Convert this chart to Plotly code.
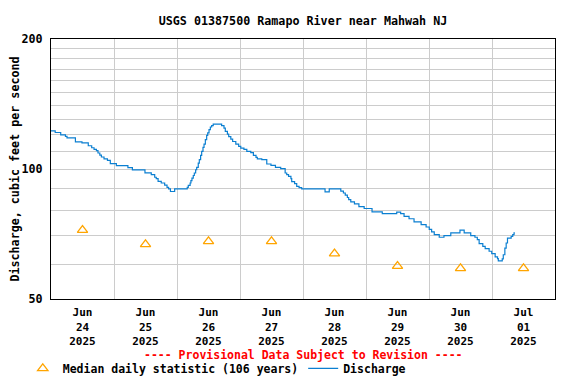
import pandas as pd
import plotly.graph_objects as go

# ---------------- data ----------------
start = pd.Timestamp("2025-06-24 00:00")

# Discharge (hours since Jun 24 00:00, cfs)
q_hours = [0.0, 1.6, 3.7, 5.5, 6.1, 9.3, 11.8, 14.2, 15.5, 16.4, 17.3, 17.9, 18.6, 19.2, 20.2,
           21.5, 22.6, 24.9, 29.3, 31.0, 35.8, 38.2, 39.5, 40.1, 40.8, 42.0, 43.3, 44.2, 44.8,
           45.5, 47.1, 51.9, 52.3, 53.0, 53.3, 53.7, 54.2, 54.6, 55.1, 55.5, 56.1, 56.5, 57.0,
           57.4, 57.9, 58.3, 58.8, 59.3, 59.7, 60.2, 60.7, 61.2, 61.8, 65.0, 65.9, 66.4, 67.2,
           67.7, 68.5, 69.2, 70.4, 71.5, 72.3, 73.5, 74.6, 76.1, 77.1, 78.1, 78.6, 80.3, 82.2,
           83.8, 85.5, 87.5, 89.2, 89.8, 90.5, 91.4, 91.7, 92.8, 93.6, 94.5, 95.5, 104.4, 106.0,
           110.4, 111.4, 112.1, 112.9, 113.4, 114.2, 115.6, 117.3, 119.3, 122.3, 126.2, 131.7,
           133.2, 134.5, 136.4, 138.3, 141.0, 142.9, 144.1, 145.0, 146.0, 147.9, 149.7, 152.3,
           155.8, 157.4, 159.9, 161.5, 162.4, 163.1, 164.5, 165.4, 166.9, 167.9, 169.2, 170.1,
           170.4, 171.9, 172.3, 172.9, 173.4, 173.9, 175.3, 175.9, 176.4, 176.7]
q_values = [122.5, 121.5, 120.0, 119.0, 118.0, 115.5, 114.9, 113.2, 112.0, 111.0, 110.3, 108.9,
            107.7, 106.6, 105.5, 104.7, 102.9, 101.8, 100.7, 99.5, 98.0, 97.0, 95.7, 95.0, 93.6,
            92.8, 91.8, 90.7, 89.9, 88.7, 89.9, 90.7, 91.6, 92.8, 94.0, 95.3, 96.6, 97.9, 99.6,
            100.9, 103.2, 105.1, 107.5, 109.8, 112.2, 114.2, 116.9, 119.6, 121.2, 123.3, 125.1,
            126.0, 127.0, 126.0, 124.4, 122.2, 120.5, 118.8, 117.3, 115.8, 114.2, 112.8, 111.8,
            111.0, 109.8, 109.1, 107.5, 106.4, 105.6, 105.1, 102.7, 101.9, 100.9, 100.2, 97.9,
            97.0, 96.1, 95.0, 93.5, 92.5, 91.2, 90.5, 89.9, 88.5, 89.9, 88.9, 88.0, 87.0, 85.9,
            84.9, 83.9, 83.0, 81.8, 81.0, 79.6, 78.8, 79.5, 78.8, 77.7, 76.7, 75.4, 74.3, 73.4,
            72.5, 71.5, 70.5, 69.5, 70.1, 71.1, 72.2, 71.1, 70.1, 69.5, 68.6, 67.2, 66.2, 65.4,
            64.5, 63.7, 62.6, 62.0, 61.3, 61.9, 63.3, 65.6, 67.4, 69.2, 69.8, 70.5, 71.1, 71.1]

# Median daily statistic (106 years), plotted at noon of each day
median_days = ["2025-06-24", "2025-06-25", "2025-06-26", "2025-06-27",
               "2025-06-28", "2025-06-29", "2025-06-30", "2025-07-01"]
median_values = [72.2, 66.9, 68.0, 68.0, 63.7, 59.6, 58.9, 58.9]

tick_labels = ["Jun<br>24<br>2025", "Jun<br>25<br>2025", "Jun<br>26<br>2025", "Jun<br>27<br>2025",
               "Jun<br>28<br>2025", "Jun<br>29<br>2025", "Jun<br>30<br>2025", "Jul<br>01<br>2025"]
y_ticks = [50, 100, 200]
y_minor = [60, 70, 80, 90, 110, 120, 130, 140, 150, 160, 170, 180, 190]

# ---------------- figure ----------------
q_times = [start + pd.Timedelta(hours=h) for h in q_hours]
median_times = [pd.Timestamp(d) + pd.Timedelta(hours=12) for d in median_days]
midnights = [pd.Timestamp(d) for d in median_days[1:]]

FONT = "DejaVu Sans Mono"
fig = go.Figure()
fig.add_trace(go.Scatter(
    x=median_times, y=median_values, mode="markers",
    name="Median daily statistic (106 years)",
    marker=dict(symbol="triangle-up-open", size=9, color="#FFA500",
                line=dict(width=1.3, color="#FFA500")),
))
fig.add_trace(go.Scatter(
    x=q_times, y=q_values, mode="lines", name="Discharge",
    line=dict(color="#0B7FD1", width=1.2, shape="hv"),
))

# the page body adds an 8 px margin, so the figure is 560x368 inside a 576x384 window
fig.update_layout(
    width=560, height=368,
    margin=dict(l=43, r=13, t=31, b=77, autoexpand=False),
    paper_bgcolor="white", plot_bgcolor="white",
    font=dict(family=FONT, size=11.7, color="black", weight="bold"),
    title=dict(text="USGS 01387500 Ramapo River near Mahwah NJ",
               x=0.5, xref="paper", xanchor="center",
               y=1 - 13 / 368, yref="container", yanchor="middle",
               font=dict(family=FONT, size=11.7, color="black", weight="bold")),
    showlegend=True,
    legend=dict(orientation="h", x=-0.056, xanchor="left", y=-0.267, yanchor="middle",
                font=dict(family=FONT, size=11.5, color="black", weight="bold"),
                bgcolor="rgba(0,0,0,0)", itemwidth=30),
    annotations=[dict(text="---- Provisional Data Subject to Revision ----",
                      xref="paper", yref="paper", x=0.5, y=-0.2154,
                      xanchor="center", yanchor="middle", showarrow=False,
                      font=dict(family=FONT, size=11.5, color="#FF0000", weight="bold"))],
)

fig.update_xaxes(
    type="date", range=[start, start + pd.Timedelta(days=8)],
    tickmode="array", tickvals=median_times, ticktext=tick_labels,
    ticks="", showgrid=False, zeroline=False, automargin=False, ticklabelstandoff=3,
    showline=True, mirror=True, linecolor="black", linewidth=1,
    tickfont=dict(family=FONT, size=11, color="black", weight="bold"),
    minor=dict(tickmode="array", tickvals=midnights, showgrid=True,
               gridcolor="#CCCCCC", gridwidth=1, ticks=""),
)
fig.update_yaxes(
    type="log", range=[1.69897, 2.30103],
    tickmode="array", tickvals=y_ticks, ticktext=[str(v) for v in y_ticks],
    ticks="", showgrid=True, gridcolor="#CCCCCC", gridwidth=1, zeroline=False,
    automargin=False, ticklabelstandoff=5,
    showline=True, mirror=True, linecolor="black", linewidth=1,
    tickfont=dict(family=FONT, size=11.7, color="black", weight="bold"),
    title=dict(text="Discharge, cubic feet per second", standoff=1,
               font=dict(family=FONT, size=11.7, color="black", weight="bold")),
    minor=dict(tickmode="array", tickvals=y_minor, showgrid=True,
               gridcolor="#CCCCCC", gridwidth=1, ticks=""),
)

fig.write_html("out.html")
